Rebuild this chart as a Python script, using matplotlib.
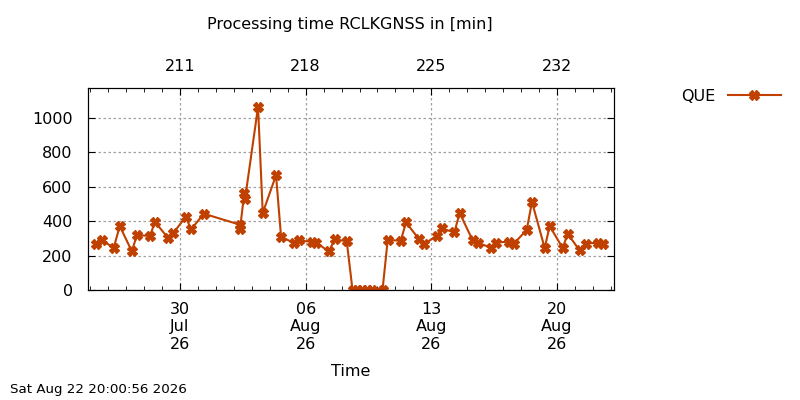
import numpy as np
import matplotlib
matplotlib.use("Agg")
import matplotlib.pyplot as plt
import matplotlib.dates as mdates
from datetime import datetime

'''
processing time RCLKGNSS, gnuplot look
'''

times = [
	"2026-07-25 07:18", "2026-07-25 15:19", "2026-07-26 07:20", "2026-07-26 15:23",
	"2026-07-27 07:25", "2026-07-27 14:30", "2026-07-28 07:29", "2026-07-28 14:34",
	"2026-07-29 07:33", "2026-07-29 14:38", "2026-07-30 07:37", "2026-07-30 14:42",
	"2026-07-31 07:41", "2026-08-02 07:50", "2026-08-02 08:10", "2026-08-02 14:00",
	"2026-08-02 15:00", "2026-08-03 08:17", "2026-08-03 14:34", "2026-08-04 08:21",
	"2026-08-04 15:02", "2026-08-05 08:01", "2026-08-05 14:42", "2026-08-06 08:53",
	"2026-08-06 14:14", "2026-08-07 06:49", "2026-08-07 14:50", "2026-08-08 06:53",
	"2026-08-08 14:38", "2026-08-08 20:40", "2026-08-09 03:20", "2026-08-09 10:02",
	"2026-08-09 16:03", "2026-08-10 06:45", "2026-08-10 13:42", "2026-08-11 07:05",
	"2026-08-11 14:11", "2026-08-12 07:33", "2026-08-12 14:14", "2026-08-13 07:13",
	"2026-08-13 14:18", "2026-08-14 06:45", "2026-08-14 13:58", "2026-08-15 07:20",
	"2026-08-15 14:02", "2026-08-16 07:25", "2026-08-16 14:07", "2026-08-17 07:29",
	"2026-08-17 14:11", "2026-08-18 07:34", "2026-08-18 14:38", "2026-08-19 07:38",
	"2026-08-19 14:18", "2026-08-20 07:41", "2026-08-20 14:22", "2026-08-21 06:24",
	"2026-08-21 14:25", "2026-08-22 06:29", "2026-08-22 13:58",
]
que = [
	270, 288, 247, 372, 226, 320, 314, 395, 305, 329, 426, 352,
	444, 380, 355, 567, 532, 1065, 448, 668, 311, 273, 288, 280,
	276, 224, 294, 284, 0, 0, 0, 0, 0, 0, 292, 286, 393, 296,
	265, 317, 358, 335, 448, 288, 275, 247, 275, 282, 269, 349,
	512, 244, 372, 244, 327, 230, 270, 275, 270,
]
doy_ticks = ["2026-07-30", "2026-08-06", "2026-08-13", "2026-08-20"]
doy_labels = ["211", "218", "225", "232"]
stamp = "Sat Aug 22 20:00:56 2026"

color = "#c04000"
fs = 11.5
plt.rcParams["font.family"] = "DejaVu Sans"
plt.rcParams["font.size"] = fs

t = [datetime.strptime(s, "%Y-%m-%d %H:%M") for s in times]
major = [datetime.strptime(s, "%Y-%m-%d") for s in doy_ticks]
xlim = (datetime(2026, 7, 24, 20, 53), datetime(2026, 8, 23, 4, 19))

fig = plt.figure(figsize=(8, 4), dpi=100)
ax = fig.add_axes([0.11, 0.275, 0.6575, 0.505])
ax.plot(t, que, color=color, lw=1.5, marker="X", ms=6.5, label="QUE")
ax.set_xlim(xlim)
ax.set_ylim(0, 1175)
ax.set_yticks(np.arange(0, 1001, 200))
ax.set_xticks(major)
ax.xaxis.set_major_formatter(mdates.DateFormatter("%d\n%b\n%y"))
ax.xaxis.set_minor_locator(mdates.DayLocator())
ax.tick_params(which="both", direction="in", right=True, labelsize=fs)
ax.tick_params(which="major", length=5)
ax.tick_params(which="minor", length=3)
ax.tick_params(axis="x", which="major", pad=8.5)
ax.tick_params(axis="y", which="major", pad=11)
ax.grid(True, color="#a0a0a0", ls=(0, (2, 2)), lw=0.9)
ax.set_xlabel("Time", fontsize=fs, labelpad=9)

top = ax.twiny()
top.set_xlim(xlim)
top.set_xticks(major)
top.set_xticklabels(doy_labels)
top.xaxis.set_minor_locator(mdates.DayLocator())
top.tick_params(which="both", direction="in", labelsize=fs)
top.tick_params(which="major", length=5, pad=10)
top.tick_params(which="minor", length=3)

ax.legend(loc="center left", bbox_to_anchor=(1.1, 0.96), frameon=False,
	markerfirst=False, handlelength=3.3, fontsize=fs)
fig.text(0.4375, 0.94, "Processing time RCLKGNSS in [min]", ha="center", va="center", fontsize=fs)
fig.text(0.013, 0.025, stamp, ha="left", va="center", fontsize=9.6)

fig.savefig("out.png", dpi=100)
